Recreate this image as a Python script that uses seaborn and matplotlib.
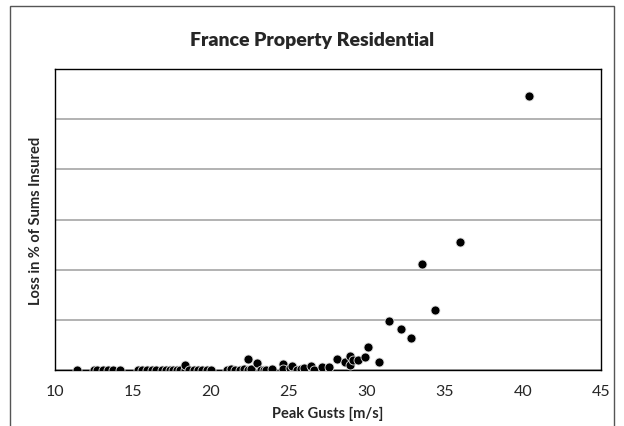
import numpy as np
import pandas as pd
import seaborn as sns
import matplotlib.pyplot as plt
from matplotlib.patches import Rectangle

# Values
peak_gusts = [
    11.4, 12.5, 12.7, 13.1, 13.4, 13.7, 14.2,
    15.35, 15.6, 15.9, 16.2, 16.5, 16.85, 17.1, 17.35, 17.6, 17.8, 18.05,
    18.35, 18.35, 18.6, 18.9, 19.15, 19.4, 19.75, 20.0,
    21.0, 21.3, 21.55, 21.85, 22.1, 22.35, 22.35, 22.6, 22.95, 23.2,
    23.4, 23.5, 23.9, 24.6, 24.65, 25.05, 25.2, 25.5, 25.75, 25.95,
    26.4, 26.6, 27.1, 27.55, 28.1, 28.6, 28.9, 28.9, 29.1, 29.45,
    29.9, 30.1, 30.8, 31.4, 32.2, 32.85, 33.5, 34.35, 35.95, 40.4,
]
loss_pct = [
    0.0, 0.0, 0.0, 0.0, 0.0, 0.0, 0.0,
    0.0, 0.0, 0.0, 0.0, 0.0, 0.01, 0.0, 0.01, 0.0, 0.01, 0.0,
    0.0, 0.1, 0.0, 0.01, 0.0, 0.0, 0.01, 0.0,
    0.01, 0.02, 0.01, 0.0, 0.02, 0.0, 0.22, 0.02, 0.15, 0.01,
    0.01, 0.01, 0.03, 0.13, 0.03, 0.05, 0.09, 0.01, 0.03, 0.05,
    0.09, 0.0, 0.07, 0.07, 0.22, 0.17, 0.29, 0.11, 0.21, 0.21,
    0.26, 0.45, 0.17, 0.97, 0.81, 0.63, 2.11, 1.2, 2.55, 5.47,
]

df = pd.DataFrame({'Peak Gusts': peak_gusts, 'Loss': loss_pct})

sns.set_style('white')
plt.rcParams['font.family'] = ['Lato', 'DejaVu Sans']

fig = plt.figure(figsize=(6.24, 4.27), dpi=100)
ax = fig.add_axes([0.088, 0.131, 0.875, 0.705])

sns.scatterplot(data=df, x='Peak Gusts', y='Loss', ax=ax, color='black',
                s=42, edgecolor='#dddddd', linewidth=0.6, zorder=3)

ax.set_xlim(10, 45)
ax.set_ylim(0, 6)
ax.set_xticks(range(10, 46, 5))
ax.set_yticks(range(0, 7))
ax.set_yticklabels([])
ax.tick_params(axis='y', length=0)
ax.tick_params(axis='x', length=0, labelsize=11.5, pad=10)
ax.yaxis.grid(True, color='#a6a6a6', linewidth=1.2)
ax.set_axisbelow(True)
for side in ax.spines.values():
    side.set_color('black')
    side.set_linewidth(1)

ax.set_xlabel('Peak Gusts [m/s]', fontsize=10.5, fontweight='bold', labelpad=6)
ax.set_ylabel('Loss in % of Sums Insured', fontsize=10.5, fontweight='bold',
              labelpad=5)
fig.text(0.5, 0.905, 'France Property Residential', ha='center', va='center',
         fontsize=14, fontweight='heavy')

# chart area border
fig.patches.append(Rectangle((10 / 624, -0.02), 604 / 624, 1 - 7 / 427 + 0.02,
                             transform=fig.transFigure, fill=False,
                             edgecolor='#555555', linewidth=1))

fig.savefig('out.png', dpi=100)
